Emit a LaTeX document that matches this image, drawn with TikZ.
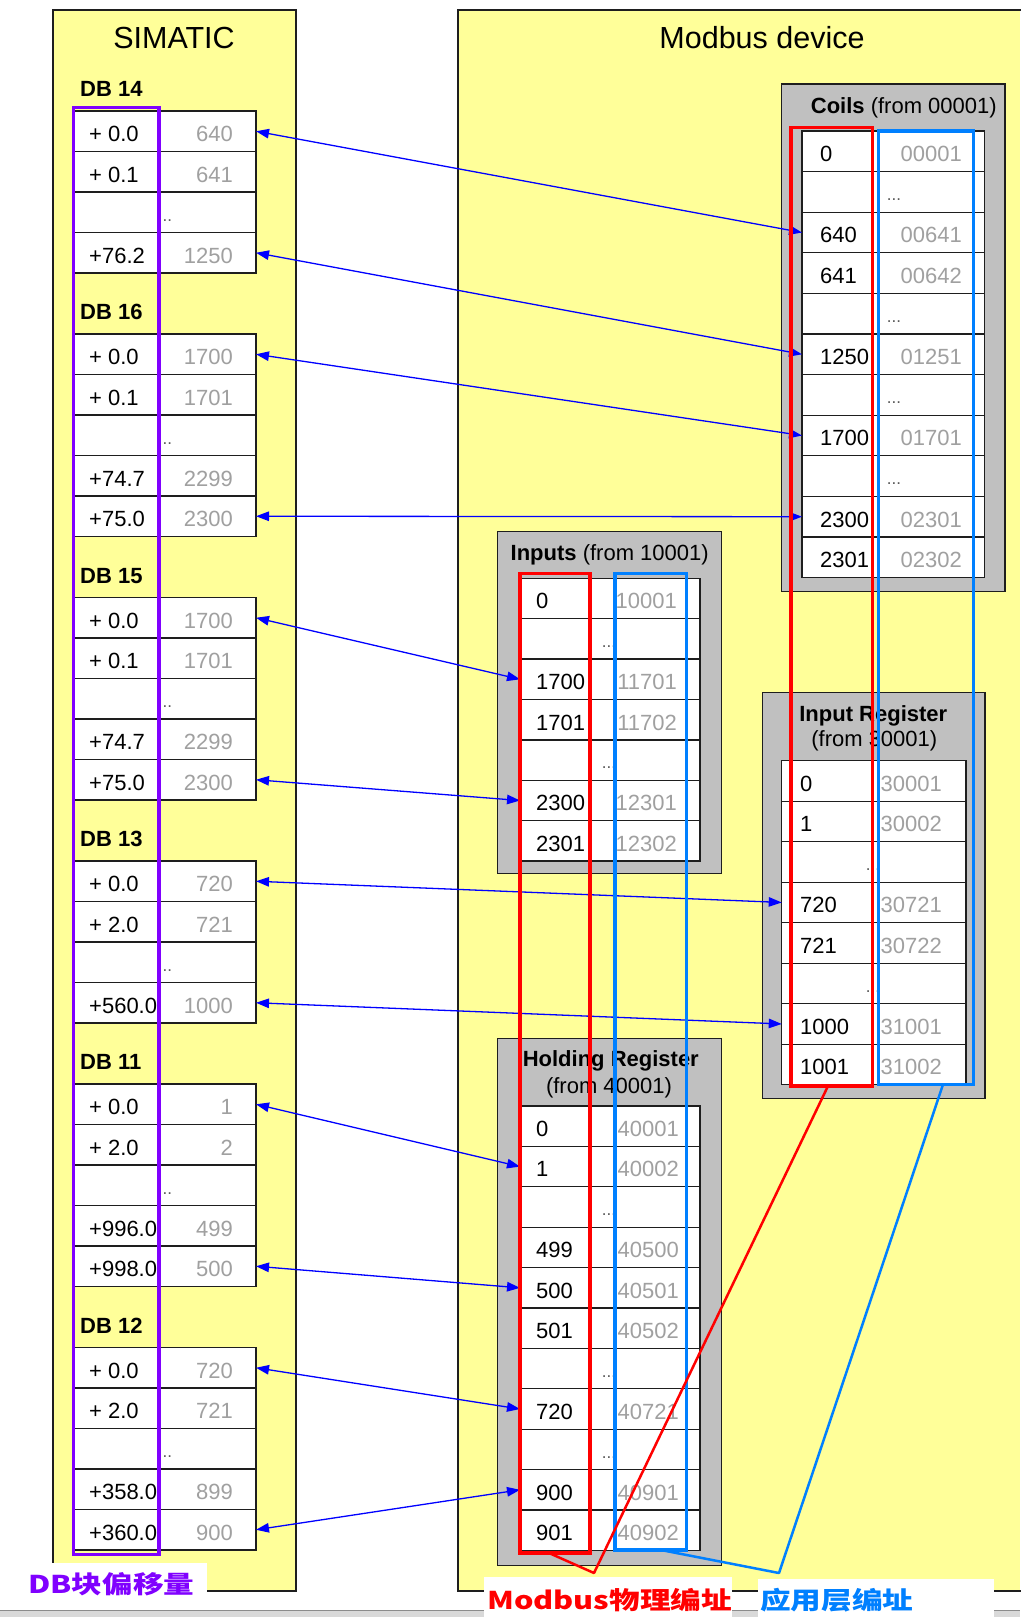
\documentclass[tikz,border=0pt]{standalone}
\usepackage{fontspec}
\usepackage{graphicx}
\setmainfont{Liberation Sans}
\newfontfamily\cjkfont{Noto Sans CJK SC}
\usetikzlibrary{arrows.meta}
\definecolor{bgyellow}{RGB}{255,255,153}
\definecolor{boxgray}{RGB}{192,192,192}
\definecolor{numgray}{RGB}{160,160,160}
\definecolor{linkblue}{RGB}{0,0,255}
\definecolor{physred}{RGB}{255,0,0}
\definecolor{appblue}{RGB}{0,128,255}
\definecolor{offpurple}{RGB}{128,0,255}
\definecolor{edgecol}{RGB}{30,30,30}

\newcommand\settab[9]{\def\tbL{#1}\def\tbD{#2}\def\tbR{#3}\def\tbT{#4}\def\tbH{#5}\def\tbLX{#6}\def\tbRX{#7}\def\tbDX{#8}\def\tbP{#9}}
\newcommand\rowcell[1]{%
  \node[cellbox, minimum width={(\tbR-\tbL)*1pt}, minimum height={\tbH*1pt}] (\tbP r#1) at ({(\tbL+\tbR)/2},{\tbT+(#1+0.5)*\tbH}) {};
  \draw[celledge] (\tbD,{\tbT+#1*\tbH}) -- (\tbD,{\tbT+(#1+1)*\tbH});}
\newcommand\tabrow[3]{%
  \rowcell{#1}
  \node[lefttxt] (\tbP a#1) at (\tbLX,{\tbT+(#1+0.5)*\tbH+10.3}) {#2};
  \node[righttxt] (\tbP b#1) at (\tbRX,{\tbT+(#1+0.5)*\tbH+10.3}) {#3};}
\newcommand\tabdots[1]{%
  \rowcell{#1}
  \node[dotstxt] (\tbP d#1) at (\tbDX,{\tbT+#1*\tbH+29}) {...};}
\newcommand\rectnode[6]{\node[#6, minimum width={(#4-#2)*1pt}, minimum height={(#5-#3)*1pt}] (#1) at ({(#2+#4)/2},{(#3+#5)/2}) {};}

\begin{document}
\begin{tikzpicture}[x=1pt,y=-1pt,
  cellbox/.style={draw=edgecol, line width=1.3pt, fill=white, inner sep=0pt, outer sep=0pt, rectangle},
  celledge/.style={draw=edgecol, line width=1.3pt},
  lefttxt/.style={anchor=base west, inner sep=0pt, font=\fontsize{22}{26}\selectfont, text=black},
  righttxt/.style={anchor=base east, inner sep=0pt, font=\fontsize{22}{26}\selectfont, text=numgray},
  dotstxt/.style={anchor=base, inner sep=0pt, font=\fontsize{17}{20}\selectfont, text=black!65},
  dblabel/.style={anchor=base west, inner sep=0pt, font=\fontsize{22}{26}\selectfont\bfseries},
  grptitle/.style={anchor=base, inner sep=0pt, font=\fontsize{22}{26}\selectfont},
  bigtitle/.style={anchor=base, inner sep=0pt, font=\fontsize{30.5}{36}\selectfont},
  mainbox/.style={draw=edgecol, line width=1.4pt, fill=bgyellow, inner sep=0pt, outer sep=0pt},
  grpbox/.style={draw=edgecol, line width=1.4pt, fill=boxgray, inner sep=0pt, outer sep=0pt},
  linkarrow/.style={draw=linkblue, line width=1.3pt, {Triangle[length=13pt,width=9.5pt]}-{Triangle[length=13pt,width=9.5pt]}},
  hlframe/.style={draw=#1, line width=3.3pt, inner sep=0pt, outer sep=0pt, fill=none},
  leadline/.style={draw=#1, line width=2.5pt, line join=round},
  tagtxt/.style={anchor=west, inner sep=0pt, font=\fontsize{24.5}{28}\cjkfont\bfseries}]
\useasboundingbox (0,0) rectangle (1020,1617);
\fill[white] (0,0) rectangle (1020,1617);

% main boxes
\rectnode{simatic}{53}{10}{296}{1591}{mainbox}
\fill[bgyellow] (458,10) rectangle (1020,1591);
\draw[edgecol, line width=1.4pt] (1021,10) -- (458,10) -- (458,1591) -- (1021,1591);
\node[bigtitle] (simtitle) at (174,48.3) {SIMATIC};
\node[bigtitle] (modtitle) at (762,48) {Modbus device};

% group boxes
\rectnode{coilsbox}{781.7}{84}{1005}{591.7}{grpbox}
\rectnode{inpbox}{497.3}{531.7}{721.7}{873.3}{grpbox}
\rectnode{iregbox}{762.7}{692.7}{985}{1098.3}{grpbox}
\rectnode{holdbox}{497.3}{1038.3}{721.7}{1565.5}{grpbox}
\node[grptitle] (coilstitle) at (903.8,113.3) {\textbf{Coils} (from 00001)};
\node[grptitle] (inptitle) at (609.7,560) {\textbf{Inputs} (from 10001)};
\node[grptitle] (iregtitle) at (873.3,721.7) {\textbf{Input Register}};
\node[grptitle] (iregtitleb) at (874.3,746.7) {(from 30001)};
\node[grptitle] (holdtitle) at (610.8,1066.7) {\textbf{Holding Register}};
\node[grptitle] (holdtitleb) at (609,1093.3) {(from 40001)};

% DB tables
\settab{74}{160}{256}{111}{40.5}{89}{233}{165}{db14}
\tabrow{0}{+ 0.0}{640}
\tabrow{1}{+ 0.1}{641}
\tabdots{2}
\tabrow{3}{+76.2}{1250}
\node[dblabel] (db14lab) at (80,96.7) {DB 14};

\settab{74}{160}{256}{334}{40.5}{89}{233}{165}{db16}
\tabrow{0}{+ 0.0}{1700}
\tabrow{1}{+ 0.1}{1701}
\tabdots{2}
\tabrow{3}{+74.7}{2299}
\tabrow{4}{+75.0}{2300}
\node[dblabel] (db16lab) at (80,319.7) {DB 16};

\settab{74}{160}{256}{597.5}{40.5}{89}{233}{165}{db15}
\tabrow{0}{+ 0.0}{1700}
\tabrow{1}{+ 0.1}{1701}
\tabdots{2}
\tabrow{3}{+74.7}{2299}
\tabrow{4}{+75.0}{2300}
\node[dblabel] (db15lab) at (80,583.2) {DB 15};

\settab{74}{160}{256}{861}{40.5}{89}{233}{165}{db13}
\tabrow{0}{+ 0.0}{720}
\tabrow{1}{+ 2.0}{721}
\tabdots{2}
\tabrow{3}{+560.0}{1000}
\node[dblabel] (db13lab) at (80,846.7) {DB 13};

\settab{74}{160}{256}{1084}{40.5}{89}{233}{165}{db11}
\tabrow{0}{+ 0.0}{1}
\tabrow{1}{+ 2.0}{2}
\tabdots{2}
\tabrow{3}{+996.0}{499}
\tabrow{4}{+998.0}{500}
\node[dblabel] (db11lab) at (80,1069.7) {DB 11};

\settab{74}{160}{256}{1347.5}{40.5}{89}{233}{165}{db12}
\tabrow{0}{+ 0.0}{720}
\tabrow{1}{+ 2.0}{721}
\tabdots{2}
\tabrow{3}{+358.0}{899}
\tabrow{4}{+360.0}{900}
\node[dblabel] (db12lab) at (80,1333.2) {DB 12};

% Modbus tables
\settab{802}{877.3}{984.3}{131}{40.6}{820}{962}{894}{coils}
\tabrow{0}{0}{00001}
\tabdots{1}
\tabrow{2}{640}{00641}
\tabrow{3}{641}{00642}
\tabdots{4}
\tabrow{5}{1250}{01251}
\tabdots{6}
\tabrow{7}{1700}{01701}
\tabdots{8}
\tabrow{9}{2300}{02301}
\tabrow{10}{2301}{02302}

\settab{520}{590}{700}{578.3}{40.4}{536}{677}{609}{inp}
\tabrow{0}{0}{10001}
\tabdots{1}
\tabrow{2}{1700}{11701}
\tabrow{3}{1701}{11702}
\tabdots{4}
\tabrow{5}{2300}{12301}
\tabrow{6}{2301}{12302}

\settab{781.7}{878}{966}{760.7}{40.5}{800}{942}{873}{ireg}
\tabrow{0}{0}{30001}
\tabrow{1}{1}{30002}
\tabdots{2}
\tabrow{3}{720}{30721}
\tabrow{4}{721}{30722}
\tabdots{5}
\tabrow{6}{1000}{31001}
\tabrow{7}{1001}{31002}

\settab{520}{590}{700}{1106}{40.4}{536}{679}{609}{hold}
\tabrow{0}{0}{40001}
\tabrow{1}{1}{40002}
\tabdots{2}
\tabrow{3}{499}{40500}
\tabrow{4}{500}{40501}
\tabrow{5}{501}{40502}
\tabdots{6}
\tabrow{7}{720}{40721}
\tabdots{8}
\tabrow{9}{900}{40901}
\tabrow{10}{901}{40902}

% mapping arrows
\draw[linkarrow] (db14r0.east) -- (coilsr2.west);
\draw[linkarrow] (db14r3.east) -- (coilsr5.west);
\draw[linkarrow] (db16r0.east) -- (coilsr7.west);
\draw[linkarrow] (db16r4.east) -- (coilsr9.west);
\draw[linkarrow] (db15r0.east) -- (inpr2.west);
\draw[linkarrow] (db15r4.east) -- (inpr5.west);
\draw[linkarrow] (db13r0.east) -- (iregr3.west);
\draw[linkarrow] (db13r3.east) -- (iregr6.west);
\draw[linkarrow] (db11r0.east) -- (holdr1.west);
\draw[linkarrow] (db11r4.east) -- (holdr4.west);
\draw[linkarrow] (db12r0.east) -- (holdr7.west);
\draw[linkarrow] (db12r4.east) -- (holdr9.west);

% highlight frames
\rectnode{offsetframe}{73.3}{107.7}{159}{1554.3}{hlframe=offpurple}
\rectnode{physframeA}{791}{127.5}{872.5}{1086}{hlframe=physred}
\rectnode{appframeA}{878.3}{131}{973.5}{1084.5}{hlframe=appblue}
\rectnode{physframeB}{520}{573.3}{590}{1553}{hlframe=physred}
\rectnode{appframeB}{615}{573.3}{686.7}{1550}{hlframe=appblue}

% leader lines
\coordinate (redA) at (828,1086);
\coordinate (redB) at (549,1553);
\coordinate (redjoin) at (594,1573);
\coordinate (blueA) at (943,1084.5);
\coordinate (blueB) at (661,1550);
\coordinate (bluejoin) at (779,1573);
\draw[leadline=physred] (redB) -- (redjoin) -- (redA);
\draw[leadline=appblue] (blueB) -- (bluejoin) -- (blueA);

% bottom strip
\fill[black!15] (0,1610) rectangle (1020,1617);
\draw[black!45, line width=1pt] (0,1610) -- (1020,1610);

% labels
\fill[white] (20,1563) rectangle (207,1606);
\fill[white] (484,1577) rectangle (732,1617);
\fill[white] (758,1579) rectangle (994,1617);
\node[tagtxt, text=offpurple] (offsettag) at (28,1584.5) {\scalebox{1.25}[1]{DB块偏移量}};
\node[tagtxt, text=physred] (phystag) at (487,1600) {\scalebox{1.25}[1]{Modbus物理编址}};
\node[tagtxt, text=appblue] (apptag) at (760,1600) {\scalebox{1.25}[1]{应用层编址}};
\end{tikzpicture}
\end{document}
